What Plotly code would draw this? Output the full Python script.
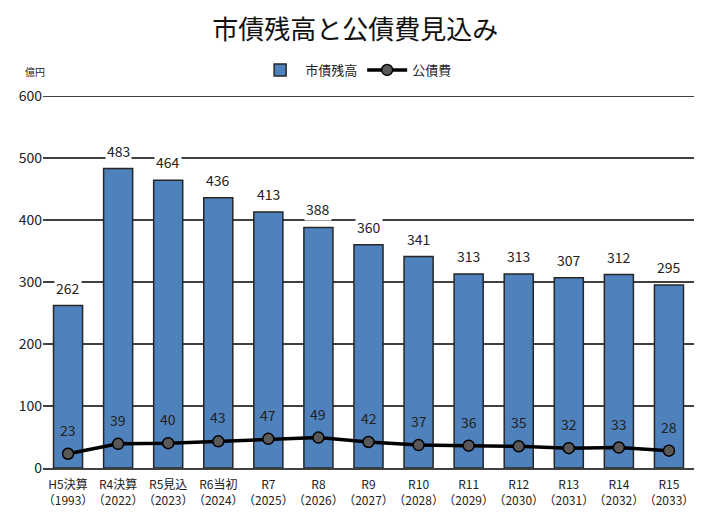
import plotly.graph_objects as go

categories = ["H5決算<br>（1993）", "R4決算<br>（2022）", "R5見込<br>（2023）", "R6当初<br>（2024）",
              "R7<br>（2025）", "R8<br>（2026）", "R9<br>（2027）", "R10<br>（2028）",
              "R11<br>（2029）", "R12<br>（2030）", "R13<br>（2031）", "R14<br>（2032）", "R15<br>（2033）"]
debt_balance = [262, 483, 464, 436, 413, 388, 360, 341, 313, 313, 307, 312, 295]
debt_service = [23, 39, 40, 43, 47, 49, 42, 37, 36, 35, 32, 33, 28]
y_ticks = [0, 100, 200, 300, 400, 500, 600]

FONT = "Noto Sans CJK JP"
TXT = "#222222"

fig = go.Figure()
fig.add_trace(go.Bar(
    x=categories, y=debt_balance, name="市債残高",
    marker=dict(color="#4F81BD", line=dict(color="#262626", width=1.5)),
))
fig.add_trace(go.Scatter(
    x=categories, y=debt_service, name="公債費", mode="lines+markers",
    line=dict(color="#000000", width=3.5),
    marker=dict(color="#595959", size=11, line=dict(color="#000000", width=1.5)),
))

annotations = []
for c, v in zip(categories, debt_balance):
    annotations.append(dict(x=c, y=v, text=str(v), showarrow=False, yanchor="bottom",
                            yshift=6, bgcolor="white", borderpad=1,
                            font=dict(size=14, color=TXT, family=FONT)))
for c, v in zip(categories, debt_service):
    annotations.append(dict(x=c, y=v, text=str(v), showarrow=False, yanchor="bottom",
                            yshift=12, font=dict(size=14, color=TXT, family=FONT)))
annotations.append(dict(xref="paper", yref="paper", x=-0.031, y=1.065, xanchor="left", yanchor="middle",
                        text="億円", showarrow=False, font=dict(size=10, color=TXT, family=FONT)))

fig.update_layout(
    width=710, height=525,
    margin=dict(l=35, r=24, t=88, b=65),
    paper_bgcolor="white", plot_bgcolor="white",
    title=dict(text="市債残高と公債費見込み", x=0.489, xanchor="center", y=0.958, yanchor="middle",
               font=dict(size=26, color="#111111", family=FONT)),
    legend=dict(orientation="h", x=0.481, xanchor="center", y=1.07, yanchor="middle",
                font=dict(size=13, color=TXT, family=FONT), itemwidth=40, bgcolor="rgba(0,0,0,0)"),
    bargap=0.42,
    showlegend=True,
    annotations=annotations,
    shapes=[dict(type="line", xref="paper", yref="y", x0=0, x1=1, y0=600, y1=600,
                 line=dict(color="#404040", width=2), layer="below")],
    font=dict(family=FONT),
)
fig.update_xaxes(range=[-0.5, 12.5], showgrid=False, showline=True, linecolor="#404040", linewidth=2,
                 tickangle=0, automargin=False, ticklabelstandoff=5,
                 tickfont=dict(size=12, color=TXT, family=FONT), ticks="")
fig.update_yaxes(range=[0, 600], tickvals=y_ticks, showgrid=True, gridcolor="#404040", gridwidth=2,
                 zeroline=False, showline=False, ticks="", automargin=False,
                 tickfont=dict(size=14, color=TXT, family=FONT))

fig.write_html("out.html")
